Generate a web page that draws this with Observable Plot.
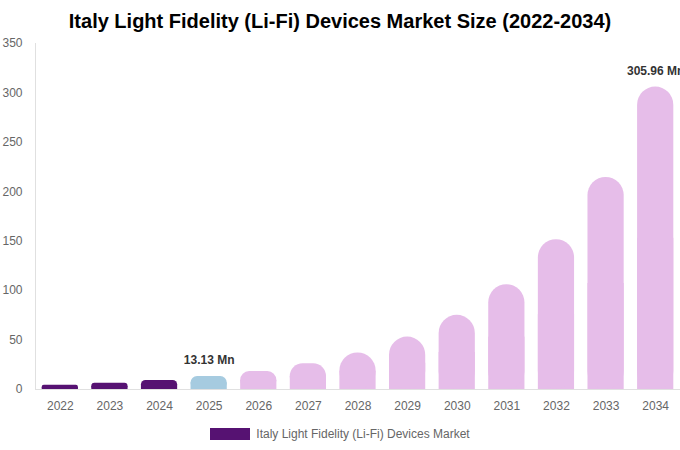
<!DOCTYPE html>
<html>
<head>
<meta charset="utf-8">
<script src="https://cdn.jsdelivr.net/npm/d3@7"></script>
<script src="https://cdn.jsdelivr.net/npm/@observablehq/plot@0.6"></script>
<style>
  html, body { margin: 0; padding: 0; background: #fff; width: 680px; overflow: hidden; }
  body { font-family: "Liberation Sans", Arial, sans-serif; }
  #title { height: 36px; box-sizing: border-box; padding-top: 9px; text-align: center; font-weight: bold; font-size: 20px; line-height: 24px; color: #000; white-space: nowrap; }
  #chart svg { display: block; overflow: hidden; }
  #legend { display: flex; justify-content: center; align-items: center; height: 20px; margin-top: 4px; font-size: 12px; color: #666; }
  #legend .sw { width: 40px; height: 12px; background: #561272; margin-right: 6px; }
</style>
</head>
<body>
<div id="title">Italy Light Fidelity (Li-Fi) Devices Market Size (2022-2034)</div>
<div id="chart"></div>
<div id="legend"><span class="sw"></span><span>Italy Light Fidelity (Li-Fi) Devices Market</span></div>
<script>
const years = ["2022","2023","2024","2025","2026","2027","2028","2029","2030","2031","2032","2033","2034"];
const values = [4.2, 6.3, 9.1, 13.13, 18.2, 26.0, 37.0, 53.0, 75.0, 106.0, 151.5, 214.5, 305.96];
const phases = ["hist","hist","hist","base","fc","fc","fc","fc","fc","fc","fc","fc","fc"];
const labels = ["","","","13.13 Mn","","","","","","","","","305.96 Mn"];
const phaseColors = {hist: "#561272", base: "#a6cbe0", fc: "#e6bde9"};
const yTicks = [0, 50, 100, 150, 200, 250, 300, 350];

const data = years.map((y, i) => ({year: y, value: values[i], half: values[i] / 2, phase: phases[i], label: labels[i]}));

const plot = Plot.plot({
  width: 680,
  height: 384,
  marginTop: 7,
  marginBottom: 31,
  marginLeft: 35,
  marginRight: 0,
  style: {fontFamily: "'Liberation Sans', Arial, sans-serif", fontSize: "12px", color: "#666", background: "#fff"},
  x: {domain: years, paddingInner: 0.27, paddingOuter: 0.135, round: false, label: null, tickSize: 0, tickPadding: 12},
  y: {domain: [0, 350], ticks: yTicks, label: null, tickSize: 0, tickPadding: 13},
  marks: [
    Plot.barY(data, {x: "year", y: "half", fill: d => phaseColors[d.phase]}),
    Plot.barY(data, {x: "year", y: "value", fill: d => phaseColors[d.phase]}),
    Plot.ruleY([0], {stroke: "#e0e0e0"}),
    Plot.ruleX([years[0]], {stroke: "#e0e0e0", dx: -24.8}),
    Plot.text(data.filter(d => d.label), {x: "year", y: "value", text: "label", dy: -16, fill: "#333", fontWeight: "bold", fontSize: 12})
  ]
});

// round the top corners of the bars Plot drew in the second bar mark (radius limited by bar size)
const barGroups = d3.select(plot).selectAll('g[aria-label="bar"]').nodes();
d3.select(barGroups[1]).selectAll("rect").each(function() {
  const r = d3.select(this);
  const w = +r.attr("width"), h = +r.attr("height");
  const rad = Math.min(w / 2, h / 2);
  r.attr("rx", rad).attr("ry", rad);
});

document.getElementById("chart").appendChild(plot);
</script>
</body>
</html>
